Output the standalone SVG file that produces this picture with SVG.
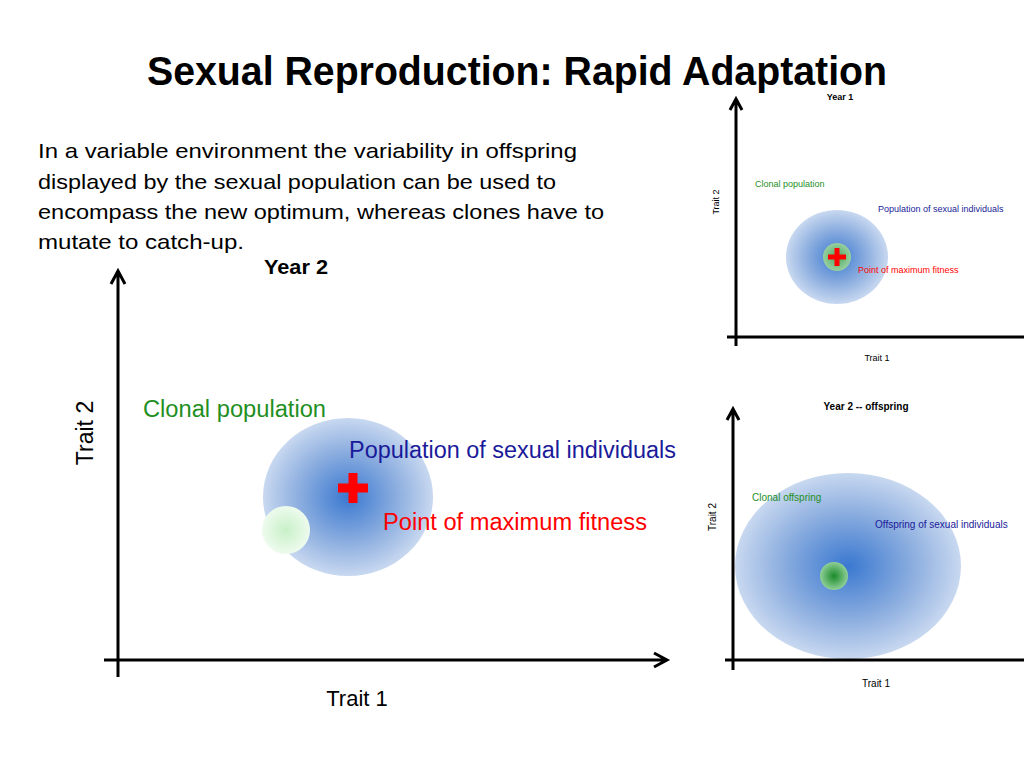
<svg xmlns="http://www.w3.org/2000/svg" width="1024" height="768" viewBox="0 0 1024 768">
<defs>
<radialGradient id="blue">
<stop offset="0" stop-color="#3a78d0"/>
<stop offset="0.6" stop-color="#8fb0e0"/>
<stop offset="1" stop-color="#c8d8f0"/>
</radialGradient>
<radialGradient id="lightgreen">
<stop offset="0" stop-color="#c8f0c8"/>
<stop offset="1" stop-color="#eefbee"/>
</radialGradient>
<radialGradient id="green">
<stop offset="0" stop-color="#1a8a2a"/>
<stop offset="1" stop-color="#8fcf98"/>
</radialGradient>
<radialGradient id="green1">
<stop offset="0" stop-color="#4aa860"/>
<stop offset="1" stop-color="#98cfa0"/>
</radialGradient>
</defs>
<style>
.t{font-family:"Liberation Sans",Arial,sans-serif}
.ax{stroke:#000;fill:none;stroke-linecap:butt}
.g{fill:#1f8f1f}
.b{fill:#1a1a9a}
.r{fill:#ff0000}
.k{fill:#000}
.bold{font-weight:bold}
</style>
<rect width="1024" height="768" fill="#fff"/>
<text class="t bold k" x="147" y="85" font-size="40" textLength="740" lengthAdjust="spacingAndGlyphs">Sexual Reproduction: Rapid Adaptation</text>
<g id="intro" class="t k" font-size="21">
<text x="38" y="158" textLength="539" lengthAdjust="spacingAndGlyphs">In a variable environment the variability in offspring</text>
<text x="38" y="189" textLength="518" lengthAdjust="spacingAndGlyphs">displayed by the sexual population can be used to</text>
<text x="38" y="219" textLength="566" lengthAdjust="spacingAndGlyphs">encompass the new optimum, whereas clones have to</text>
<text x="38" y="249" textLength="206" lengthAdjust="spacingAndGlyphs">mutate to catch-up.</text>
</g>
<g id="main-chart">
<ellipse cx="348" cy="497" rx="85" ry="79" fill="url(#blue)"/>
<circle cx="286" cy="530" r="24" fill="url(#lightgreen)"/>
<path d="M348.5,473 h9 v10.5 h10.5 v9 h-10.5 v10.5 h-9 v-10.5 h-10.5 v-9 h10.5 z" fill="#ff0000"/>
<text class="t bold k" x="264" y="274" font-size="20" textLength="64" lengthAdjust="spacingAndGlyphs">Year 2</text>
<text class="t g" x="143" y="417" font-size="23" textLength="183" lengthAdjust="spacingAndGlyphs">Clonal population</text>
<text class="t b" x="349" y="458" font-size="23" textLength="327" lengthAdjust="spacingAndGlyphs">Population of sexual individuals</text>
<text class="t r" x="383" y="530" font-size="23" textLength="264" lengthAdjust="spacingAndGlyphs">Point of maximum fitness</text>
<text class="t k" x="0" y="0" font-size="23" text-anchor="middle" transform="translate(93,433) rotate(-90)">Trait 2</text>
<text class="t k" x="357" y="706" font-size="22" text-anchor="middle">Trait 1</text>
</g>
<g id="year1-chart">
<ellipse cx="837" cy="257" rx="51" ry="47" fill="url(#blue)"/>
<circle cx="837" cy="257" r="14" fill="url(#green1)"/>
<path d="M834.5,248 h5 v6.5 h6.5 v5 h-6.5 v6.5 h-5 v-6.5 h-6.5 v-5 h6.5 z" fill="#ff0000"/>
<text class="t bold k" x="840" y="100" font-size="9" text-anchor="middle">Year 1</text>
<text class="t g" x="755" y="187" font-size="9">Clonal population</text>
<text class="t b" x="878" y="212" font-size="9">Population of sexual individuals</text>
<text class="t r" x="858" y="273" font-size="9">Point of maximum fitness</text>
<text class="t k" font-size="9" text-anchor="middle" transform="translate(719,202) rotate(-90)">Trait 2</text>
<text class="t k" x="877" y="361" font-size="9" text-anchor="middle">Trait 1</text>
</g>
<g id="year2-offspring-chart">
<ellipse cx="848" cy="566" rx="113" ry="93" fill="url(#blue)"/>
<circle cx="834" cy="576" r="14" fill="url(#green)"/>
<text class="t bold k" x="866" y="410" font-size="10" text-anchor="middle">Year 2 -- offspring</text>
<text class="t g" x="752" y="501" font-size="10">Clonal offspring</text>
<text class="t b" x="875" y="528" font-size="10">Offspring of sexual individuals</text>
<text class="t k" font-size="10" text-anchor="middle" transform="translate(716,517) rotate(-90)">Trait 2</text>
<text class="t k" x="876" y="687" font-size="10" text-anchor="middle">Trait 1</text>
</g>
<g id="connectors" class="ax">
<path d="M118,677 V272 M111,284 L118,271 L125,284" stroke-width="3"/>
<path d="M104,660 H666 M654,653 L667,660 L654,667" stroke-width="3"/>
<path d="M736,346 V99 M730,110 L736,99 L742,110" stroke-width="3"/>
<path d="M727,337 H1024" stroke-width="3"/>
<path d="M733,670 V409 M727,420 L733,409 L739,420" stroke-width="3"/>
<path d="M725,660 H1024" stroke-width="3"/>
</g>
</svg>
